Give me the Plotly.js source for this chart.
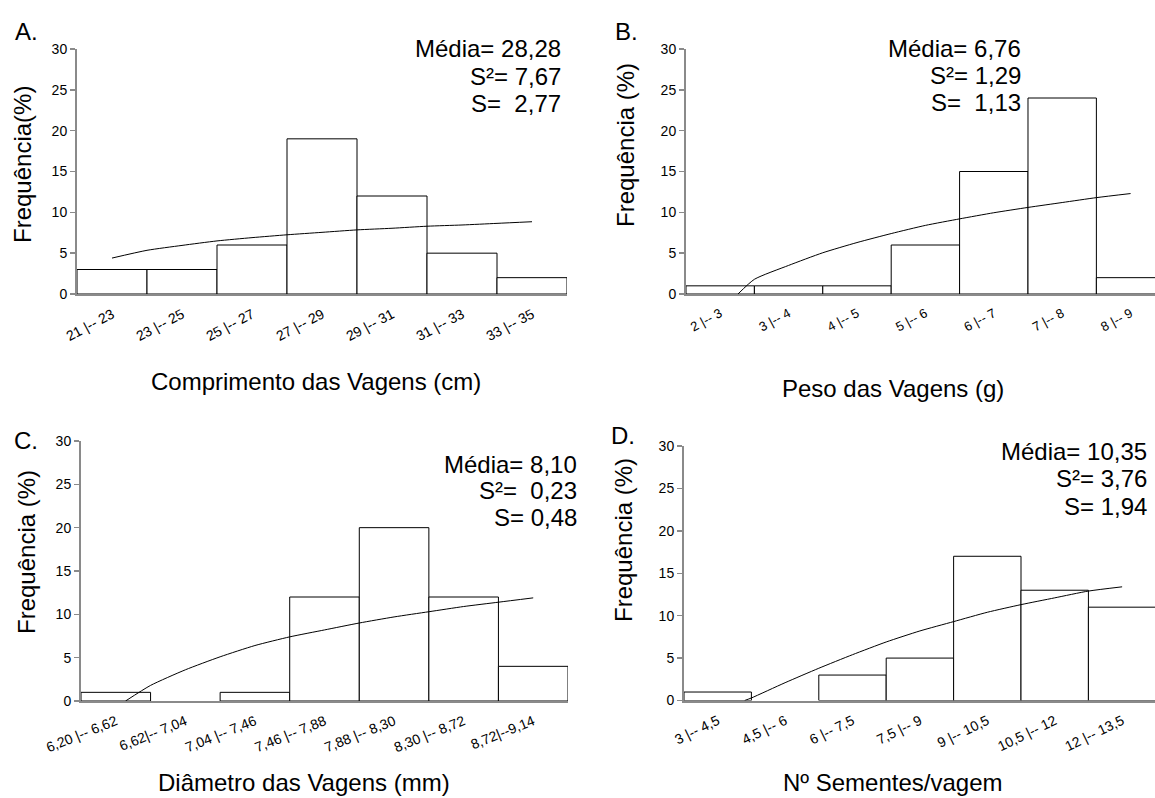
<!DOCTYPE html>
<html>
<head>
<meta charset="utf-8">
<script src="https://cdn.plot.ly/plotly-3.0.1.min.js"></script>
<style>html,body{margin:0;padding:0;background:#fff;}#chart{width:1155px;height:798px;}</style>
</head>
<body>
<div id="chart"></div>
<script>
// ---- Data ----
const catsA = ["21 |-- 23", "23 |-- 25", "25 |-- 27", "27 |-- 29", "29 |-- 31", "31 |-- 33", "33 |-- 35"];
const freqA = [3, 3, 6, 19, 12, 5, 2];
const catsB = ["2 |-- 3", "3 |-- 4", "4 |-- 5", "5 |-- 6", "6 |-- 7", "7 |-- 8", "8 |-- 9"];
const freqB = [1, 1, 1, 6, 15, 24, 2];
const catsC = ["6,20 |-- 6,62", "6,62|-- 7,04", "7,04 |-- 7,46", "7,46 |-- 7,88", "7,88 |-- 8,30", "8,30 |-- 8,72", "8,72|--9,14"];
const freqC = [1, 0, 1, 12, 20, 12, 4];
const catsD = ["3 |-- 4,5", "4,5 |-- 6", "6 |-- 7,5", "7,5 |-- 9", "9 |-- 10,5", "10,5 |-- 12", "12 |-- 13,5"];
const freqD = [1, 0, 3, 5, 17, 13, 11];

// trend curves (position along the category axis)
const curveXA = [0, 0.5, 1, 1.5, 2, 2.5, 3, 3.5, 4, 4.5, 5, 5.5, 6];
const curveYA = [4.4, 5.35, 5.95, 6.5, 6.9, 7.25, 7.55, 7.85, 8.05, 8.3, 8.45, 8.65, 8.85];
const curveXB = [0.26, 0.5, 1, 1.5, 2, 2.5, 3, 3.5, 4, 4.5, 5, 5.5, 6];
const curveYB = [0, 1.8, 3.5, 5.05, 6.3, 7.4, 8.4, 9.2, 9.95, 10.6, 11.2, 11.8, 12.3];
const curveXC = [0.14, 0.5, 1, 1.5, 2, 2.5, 3, 3.5, 4, 4.5, 5, 5.5, 6];
const curveYC = [0, 1.8, 3.6, 5.1, 6.4, 7.4, 8.2, 9.0, 9.7, 10.3, 10.9, 11.4, 11.9];
const curveXD = [0.4, 0.5, 1, 1.5, 2, 2.5, 3, 3.5, 4, 4.5, 5, 5.5, 6];
const curveYD = [0, 0.3, 2.1, 3.8, 5.4, 6.9, 8.2, 9.3, 10.4, 11.3, 12.1, 12.9, 13.4];

const statsA = ["Média= 28,28", "S²= 7,67", "S=  2,77"];
const statsB = ["Média= 6,76", "S²= 1,29", "S=  1,13"];
const statsC = ["Média= 8,10", "S²=  0,23", "S= 0,48"];
const statsD = ["Média= 10,35", "S²= 3,76", "S= 1,94"];

const panelLetters = ["A.", "B.", "C.", "D."];
const xTitles = ["Comprimento das Vagens (cm)", "Peso das Vagens (g)", "Diâmetro das Vagens (mm)", "Nº Sementes/vagem"];
const yTitles = ["Frequência(%)", "Frequência (%)", "Frequência (%)", "Frequência (%)"];
const yTicks = [0, 5, 10, 15, 20, 25, 30];

// ---- Build ----
const W = 1155, H = 798;
const FONT = "Liberation Sans, Arial, sans-serif";
const TXT = 24;
const panels = [
  {cats: catsA, freq: freqA, cx: curveXA, cy: curveYA, stats: statsA,
   px: [77, 567], py: [294, 49], xr: [-0.5, 6.5], angle: -28, tf: 14,
   letter: [26, 31], statX: 563, statY: [48, 76, 103], xt: [316, 381], yt: [23, 165]},
  {cats: catsB, freq: freqB, cx: curveXB, cy: curveYB, stats: statsB,
   px: [686, 1155], py: [294, 49], xr: [-0.5, 6.357], angle: -28, tf: 13,
   letter: [626, 31], statX: 1023, statY: [48, 75, 102], xt: [893, 388], yt: [626, 145]},
  {cats: catsC, freq: freqC, cx: curveXC, cy: curveYC, stats: statsC,
   px: [81, 568], py: [701, 441], xr: [-0.5, 6.5], angle: -22, tf: 14,
   letter: [26, 440], statX: 579, statY: [464, 490, 517], xt: [304, 782], yt: [26, 552]},
  {cats: catsD, freq: freqD, cx: curveXD, cy: curveYD, stats: statsD,
   px: [684, 1155], py: [700.5, 446], xr: [-0.5, 6.488], angle: -26, tf: 14,
   letter: [623, 435], statX: 1149, statY: [451, 478, 506], xt: [893, 782], yt: [623, 540]}
];

const traces = [];
const layout = {
  width: W, height: H, margin: {l: 0, r: 0, t: 0, b: 0},
  paper_bgcolor: "#fff", plot_bgcolor: "rgba(0,0,0,0)",
  showlegend: false, bargap: 0,
  font: {family: FONT, color: "#000"},
  annotations: []
};

function txt(x, y, text, opts) {
  return Object.assign({
    xref: "paper", yref: "paper", x: x / W, y: 1 - y / H,
    xanchor: "center", yanchor: "middle", showarrow: false,
    text: text, font: {size: TXT, family: FONT, color: "#000"}
  }, opts || {});
}

panels.forEach((p, i) => {
  const n = i === 0 ? "" : String(i + 1);
  const xa = "x" + n, ya = "y" + n;
  const idx = p.cats.map((_, k) => k);
  traces.push({
    type: "bar", x: idx, y: p.freq, xaxis: xa, yaxis: ya, width: 1,
    marker: {color: "#ffffff",
             line: {color: p.freq.map(v => v > 0 ? "#000000" : "rgba(0,0,0,0)"), width: 1}},
    hoverinfo: "skip"
  });
  traces.push({
    type: "scatter", mode: "lines", x: p.cx, y: p.cy, xaxis: xa, yaxis: ya,
    line: {color: "#000000", width: 1, shape: "spline", smoothing: 0.6},
    hoverinfo: "skip"
  });
  layout["xaxis" + n] = {
    domain: [p.px[0] / W, p.px[1] / W], anchor: ya,
    range: p.xr, tickmode: "array", tickvals: idx, ticktext: p.cats,
    tickangle: p.angle, tickfont: {size: p.tf, family: FONT, color: "#000"},
    ticklabelstandoff: 5,
    showline: true, linecolor: "#8a8a8a", linewidth: 2, ticks: "",
    showgrid: false, zeroline: false, automargin: false, layer: "above traces"
  };
  layout["yaxis" + n] = {
    domain: [1 - p.py[0] / H, 1 - p.py[1] / H], anchor: xa,
    range: [0, 30], tickmode: "array", tickvals: yTicks,
    tickfont: {size: 14, family: FONT, color: "#000"},
    showline: true, linecolor: "#8a8a8a", linewidth: 2,
    ticks: "outside", ticklen: 5, tickcolor: "#8a8a8a", tickwidth: 1.5,
    showgrid: false, zeroline: false, automargin: false, layer: "above traces"
  };
  // axis titles
  layout.annotations.push(txt(p.xt[0], p.xt[1], xTitles[i]));
  layout.annotations.push(txt(p.yt[0], p.yt[1], yTitles[i], {textangle: -90}));
  // panel letter
  layout.annotations.push(txt(p.letter[0], p.letter[1], panelLetters[i]));
  // statistics
  p.stats.forEach((s, k) => {
    layout.annotations.push(txt(p.statX, p.statY[k], s, {xanchor: "right", align: "right"}));
  });
});

Plotly.newPlot("chart", traces, layout, {displayModeBar: false, staticPlot: true});
</script>
</body>
</html>
